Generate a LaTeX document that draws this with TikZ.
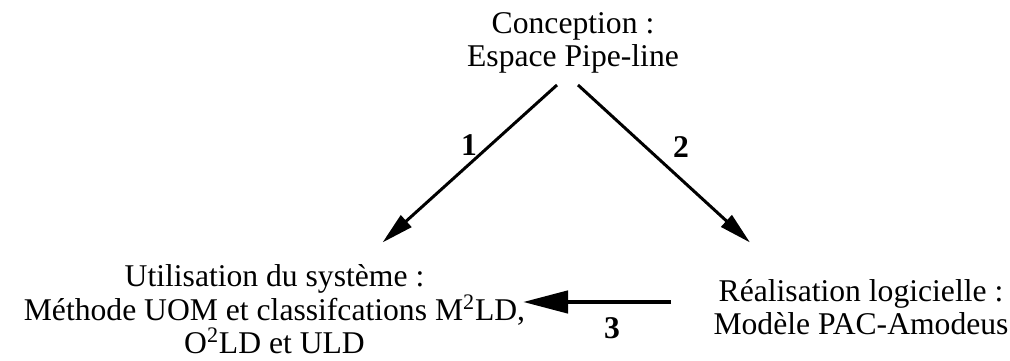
\documentclass[tikz,border=0pt]{standalone}
\usepackage{fontspec}
\setmainfont{Liberation Serif}
\usetikzlibrary{arrows.meta, positioning, calc}

\begin{document}
\begin{tikzpicture}[
  phasenode/.style={inner sep=0pt, align=center, font=\fontsize{18}{19}\selectfont},
  numlabel/.style={inner sep=0pt, font=\fontsize{18}{18}\selectfont\bfseries},
  arrow/.style={-{Triangle[length=0.64cm, width=0.31cm]}, line width=1.7pt},
  bigarrow/.style={-{Triangle[length=0.9cm, width=0.44cm]}, line width=2.6pt}
]
\useasboundingbox (0,0) rectangle (20.2,7.22);

\node[phasenode] (concep) at (11.46,6.36) {Conception :\\Espace Pipe-line};
\node[phasenode] (usage) at (5.49,1.03) {Utilisation du syst\`eme :\\M\'ethode UOM et classifcations M\textsuperscript{2}LD,\\O\textsuperscript{2}LD et ULD};
\node[phasenode] (realis) at (17.22,1.08) {R\'ealisation logicielle :\\Mod\`ele PAC-Amodeus};

% arrow ends
\coordinate (c1a) at (11.14,5.52);
\coordinate (c1b) at (7.65,2.37);
\coordinate (c2a) at (11.56,5.52);
\coordinate (c2b) at (15.00,2.37);
\coordinate (c3a) at (13.42,1.18);
\coordinate (c3b) at (10.46,1.18);

\draw[arrow] (c1a) -- (c1b);
\draw[arrow] (c2a) -- (c2b);
\draw[bigarrow] (c3a) -- (c3b);

\node[numlabel] (n1) at (9.38,4.32) {1};
\node[numlabel] (n2) at (13.62,4.28) {2};
\node[numlabel] (n3) at (12.24,0.66) {3};
\end{tikzpicture}
\end{document}
